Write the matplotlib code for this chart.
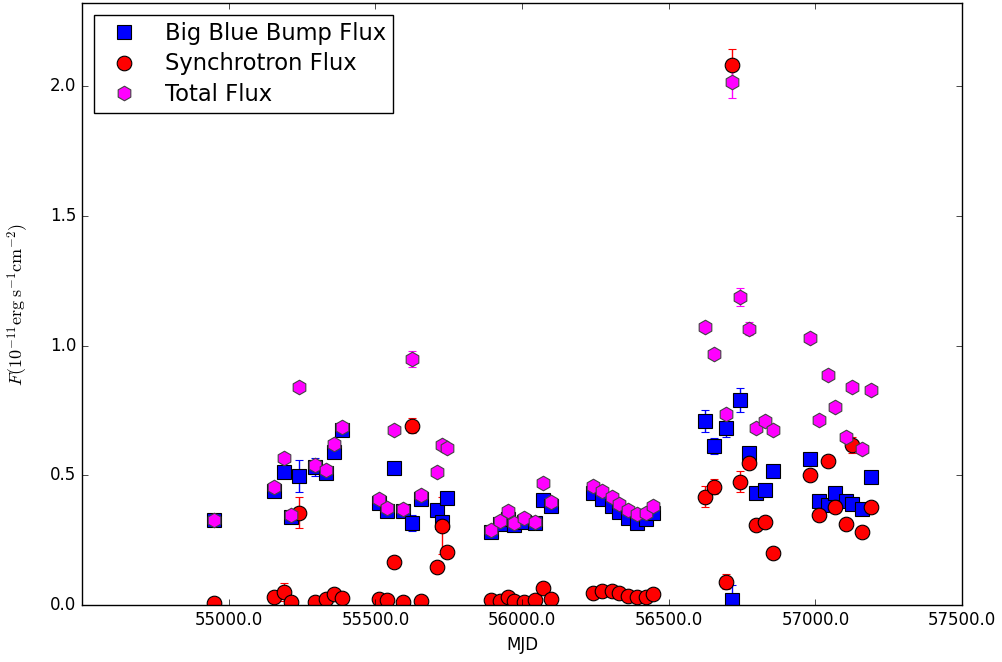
import numpy as np
import matplotlib
matplotlib.use('Agg')
import matplotlib.pyplot as plt
from matplotlib.lines import Line2D
from matplotlib.ticker import FormatStrFormatter

# observation dates (MJD)
mjd = [54950,
       55156, 55187, 55214, 55241, 55294, 55333, 55360, 55385,
       55514, 55539, 55565, 55595, 55624, 55654, 55709, 55726, 55743,
       55894, 55924, 55951, 55974, 56008, 56044, 56071, 56099,
       56241, 56272, 56307, 56331, 56360, 56391, 56422, 56448,
       56624, 56655, 56694, 56715, 56743, 56774, 56798, 56828, 56857,
       56982, 57012, 57044, 57067, 57103, 57125, 57159, 57188]

bbb = [0.328,
       0.440, 0.514, 0.340, 0.498, 0.533, 0.508, 0.591, 0.674,
       0.392, 0.363, 0.529, 0.363, 0.315, 0.410, 0.366, 0.320, 0.413,
       0.280, 0.311, 0.331, 0.308, 0.320, 0.315, 0.405, 0.383,
       0.430, 0.408, 0.383, 0.360, 0.336, 0.317, 0.330, 0.356,
       0.709, 0.613, 0.683, 0.019, 0.790, 0.587, 0.430, 0.443, 0.518,
       0.563, 0.401, 0.385, 0.430, 0.399, 0.389, 0.371, 0.492]
bbb_err = [0.01,
           0.015, 0.02, 0.015, 0.062, 0.035, 0.015, 0.015, 0.015,
           0.01, 0.01, 0.01, 0.01, 0.03, 0.01, 0.01, 0.01, 0.01,
           0.01, 0.01, 0.01, 0.01, 0.01, 0.01, 0.01, 0.01,
           0.01, 0.01, 0.01, 0.01, 0.01, 0.01, 0.01, 0.01,
           0.043, 0.03, 0.035, 0.06, 0.045, 0.02, 0.02, 0.02, 0.02,
           0.015, 0.015, 0.015, 0.015, 0.015, 0.015, 0.015, 0.015]

sync = [0.009,
        0.032, 0.051, 0.013, 0.356, 0.013, 0.023, 0.041, 0.028,
        0.022, 0.019, 0.164, 0.013, 0.691, 0.014, 0.148, 0.305, 0.205,
        0.019, 0.017, 0.032, 0.017, 0.013, 0.019, 0.064, 0.022,
        0.047, 0.055, 0.054, 0.047, 0.035, 0.032, 0.032, 0.041,
        0.417, 0.456, 0.090, 2.081, 0.475, 0.546, 0.308, 0.321, 0.199,
        0.501, 0.347, 0.555, 0.379, 0.311, 0.617, 0.283, 0.376]
sync_err = [0.005,
            0.01, 0.035, 0.01, 0.06, 0.01, 0.01, 0.01, 0.01,
            0.01, 0.01, 0.01, 0.01, 0.03, 0.01, 0.01, 0.11, 0.01,
            0.01, 0.01, 0.01, 0.01, 0.01, 0.01, 0.01, 0.01,
            0.01, 0.01, 0.01, 0.01, 0.01, 0.01, 0.01, 0.01,
            0.04, 0.03, 0.03, 0.06, 0.04, 0.02, 0.02, 0.02, 0.02,
            0.02, 0.02, 0.02, 0.02, 0.02, 0.03, 0.02, 0.02]

total = [0.329,
         0.456, 0.565, 0.347, 0.841, 0.539, 0.520, 0.620, 0.687,
         0.408, 0.375, 0.674, 0.370, 0.948, 0.422, 0.514, 0.618, 0.604,
         0.289, 0.324, 0.362, 0.317, 0.334, 0.321, 0.469, 0.396,
         0.459, 0.439, 0.415, 0.388, 0.366, 0.350, 0.356, 0.381,
         1.072, 0.966, 0.735, 2.014, 1.188, 1.064, 0.683, 0.709, 0.674,
         1.028, 0.713, 0.888, 0.762, 0.646, 0.841, 0.600, 0.829]
total_err = [0.01,
             0.01, 0.01, 0.01, 0.02, 0.01, 0.01, 0.01, 0.01,
             0.01, 0.01, 0.01, 0.01, 0.03, 0.01, 0.01, 0.01, 0.01,
             0.01, 0.01, 0.01, 0.01, 0.01, 0.01, 0.01, 0.01,
             0.01, 0.01, 0.01, 0.01, 0.01, 0.01, 0.01, 0.01,
             0.02, 0.015, 0.015, 0.06, 0.035, 0.025, 0.015, 0.015, 0.015,
             0.02, 0.015, 0.015, 0.015, 0.015, 0.015, 0.015, 0.015]

labels = ['Big Blue Bump Flux', 'Synchrotron Flux', 'Total Flux']

plt.style.use('classic')
plt.rcParams['mathtext.fontset'] = 'cm'
plt.rcParams['font.family'] = ['DejaVu Sans']

fig = plt.figure(figsize=(10.03, 6.62), dpi=100, facecolor='white')
ax = fig.add_axes([0.0818, 0.0861, 0.8774, 0.9094])

styles = [('s', 'b', 'k'), ('o', 'r', 'k'), ('h', 'magenta', '#444444')]
series = [(bbb, bbb_err), (sync, sync_err), (total, total_err)]
handles = []
for (vals, errs), (mk, col, edge), lab in zip(series, styles, labels):
    ax.errorbar(mjd, vals, yerr=errs, fmt=mk, color=col, mec=edge, mew=0.8,
                ms=10.5, capsize=3)
    handles.append(Line2D([], [], ls='none', marker=mk, color=col, mec=edge,
                          mew=0.8, ms=10.5, label=lab))

ax.set_xlim(54500, 57500)
ax.set_ylim(0, 2.32)
ax.set_xticks(np.arange(55000, 57501, 500))
ax.set_yticks(np.arange(0, 2.01, 0.5))
ax.xaxis.set_major_formatter(FormatStrFormatter('%.1f'))
ax.yaxis.set_major_formatter(FormatStrFormatter('%.1f'))
ax.tick_params(labelsize=12)

ax.set_xlabel('MJD', fontsize=12)
ax.set_ylabel(r'$F(10^{-11}\mathrm{erg}\;\mathrm{s}^{-1}\mathrm{cm}^{-2})$',
              fontsize=13)
ax.yaxis.set_label_coords(-0.058, 0.5)

ax.legend(handles=handles, loc='upper left', numpoints=1, fontsize=16.3,
          fancybox=False, borderaxespad=0.55, labelspacing=0.32,
          borderpad=0.3)

fig.savefig('out.png', dpi=100, facecolor='white')
